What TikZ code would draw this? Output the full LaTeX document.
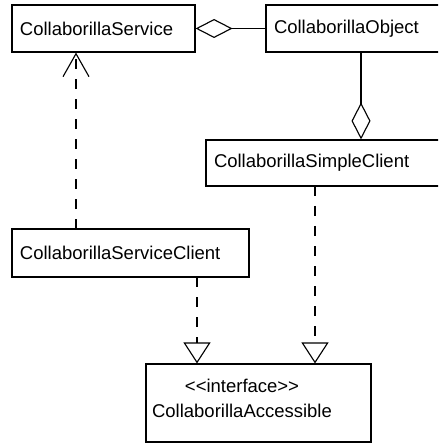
\documentclass[tikz,border=0pt]{standalone}
\usepackage{fontspec}
\setmainfont{Liberation Sans}
\usetikzlibrary{arrows.meta,calc}
\definecolor{umlink}{RGB}{0,0,0}
\definecolor{umlpaper}{RGB}{255,255,255}

\begin{document}
\begin{tikzpicture}[
  x=1cm,y=1cm,
  font=\fontsize{13.15}{15.5}\selectfont,
  color=umlink,
  box/.style={draw=umlink,fill=umlpaper,text=umlink,line width=.8pt,align=left,
              inner sep=.2cm,minimum height=1.175cm},
  agg/.style={{Diamond[open,length=.925cm,width=.475cm]}-,draw=umlink,line width=.8pt},
  dep/.style={-{Straight Barb[length=.575cm,width=.65cm]},draw=umlink,line width=.8pt,
              dash pattern=on .25cm off .25cm},
  real/.style={-{Triangle[open,length=.525cm,width=.675cm]},draw=umlink,line width=.8pt,
               dash pattern=on .25cm off .25cm}
]
\useasboundingbox (0,0) rectangle (10.95,-11.125);
% the two right-hand classes run past the right edge
\clip (0,0) rectangle (10.95,-11.125);
\fill[umlpaper] (0,0) rectangle (10.95,-11.125);

\node[box,text width=4.175cm] (service) at (2.5875,-.7125) {CollaborillaService};
\node[box,text width=4.35cm] (object) at (9.025,-.7125) {CollaborillaObject};
\node[box,text width=6.1cm,minimum height=1.15cm] (simple) at (8.4,-4.075)
  {CollaborillaSimpleClient};
\node[box,text width=5.525cm,minimum height=1.2cm] (serviceclient) at (3.2625,-6.325)
  {CollaborillaServiceClient};
\node[box,minimum width=5.625cm,minimum height=1.95cm] (accessible) at (6.4625,-10.075) {};
\node[align=center,inner sep=0pt,text=umlink,font=\fontsize{13.15}{17.8}\selectfont]
  (accessiblelabel) at (6.05,-9.97) {{<}{<}interface{>}{>}\\CollaborillaAccessible};

% aggregations (hollow diamond on the whole side)
\draw[agg] (service.east) -- (object.west);
\draw[agg] (simple.north -| object.south) -- (object.south);

% usage dependency
\coordinate (depfoot) at (1.9,-5.725);
\draw[dep] (depfoot) -- (depfoot |- service.south);

% both clients realize the interface
\coordinate (scout) at (4.925,-6.925);
\coordinate (simpleout) at (7.875,-4.65);
\draw[real] (scout) -- (scout |- accessible.north);
\draw[real] (simpleout) -- (simpleout |- accessible.north);
\end{tikzpicture}
\end{document}
